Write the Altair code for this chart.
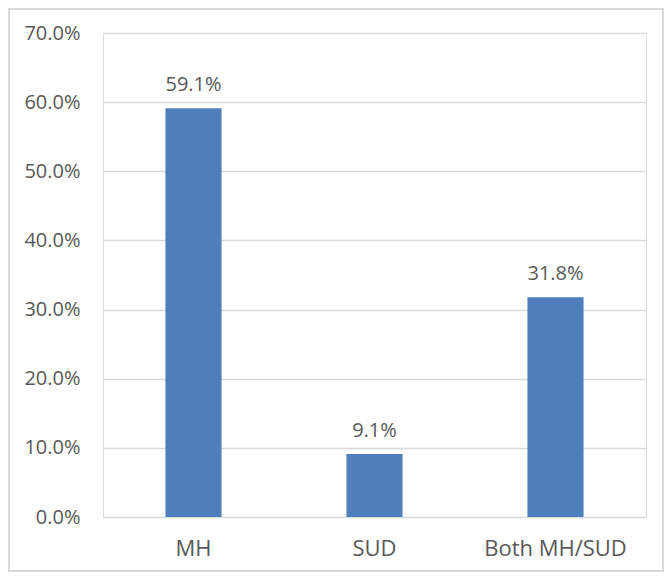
import altair as alt
import pandas as pd

categories = ["MH", "SUD", "Both MH/SUD"]
shares = [0.591, 0.091, 0.318]

df = pd.DataFrame({"category": categories, "share": shares})

W, H = 543, 484
PL, PT, PR, PB = 95, 25, 18, 55
FONT = "Open Sans"
TXT = "#595959"

x_enc = alt.X("category:N", sort=categories, title=None,
              scale=alt.Scale(paddingInner=0.69, paddingOuter=0.345),
              axis=alt.Axis(labelAngle=0, domain=False, ticks=False, labelPadding=38,
                            labelBaseline="alphabetic",
                            labelFontSize=22, labelColor=TXT, labelFont=FONT))
y_enc = alt.Y("share:Q", title=None,
              scale=alt.Scale(domain=[0, 0.7], nice=False),
              axis=alt.Axis(format=".1%", values=[0, 0.1, 0.2, 0.3, 0.4, 0.5, 0.6, 0.7],
                            domain=False, ticks=False, labelPadding=23,
                            labelFontSize=20, labelColor=TXT, labelFont=FONT,
                            grid=True, gridColor="#d9d9d9", gridWidth=1.3))

bars = alt.Chart(df).mark_bar(color="#4e7fbb").encode(x=x_enc, y=y_enc)
labels = alt.Chart(df).mark_text(baseline="alphabetic", dy=-17, fontSize=20, color=TXT, font=FONT).encode(
    x=alt.X("category:N", sort=categories),
    y="share:Q",
    text=alt.Text("share:Q", format=".1%"),
)
border = alt.Chart(df).mark_rect(fill=None, stroke="#d9d9d9", strokeWidth=1.5).encode(
    x=alt.value(-PL + 1), x2=alt.value(W + PR - 1),
    y=alt.value(-PT + 1), y2=alt.value(H + PB - 1),
)

chart = alt.layer(bars, labels, border).properties(
    width=W, height=H,
    autosize=alt.AutoSizeParams(type="none"),
    padding={"left": PL, "top": PT, "right": PR, "bottom": PB},
).configure_view(stroke=None).configure(background="white")

chart.save("out.html", embed_options={"renderer": "svg", "actions": False})
